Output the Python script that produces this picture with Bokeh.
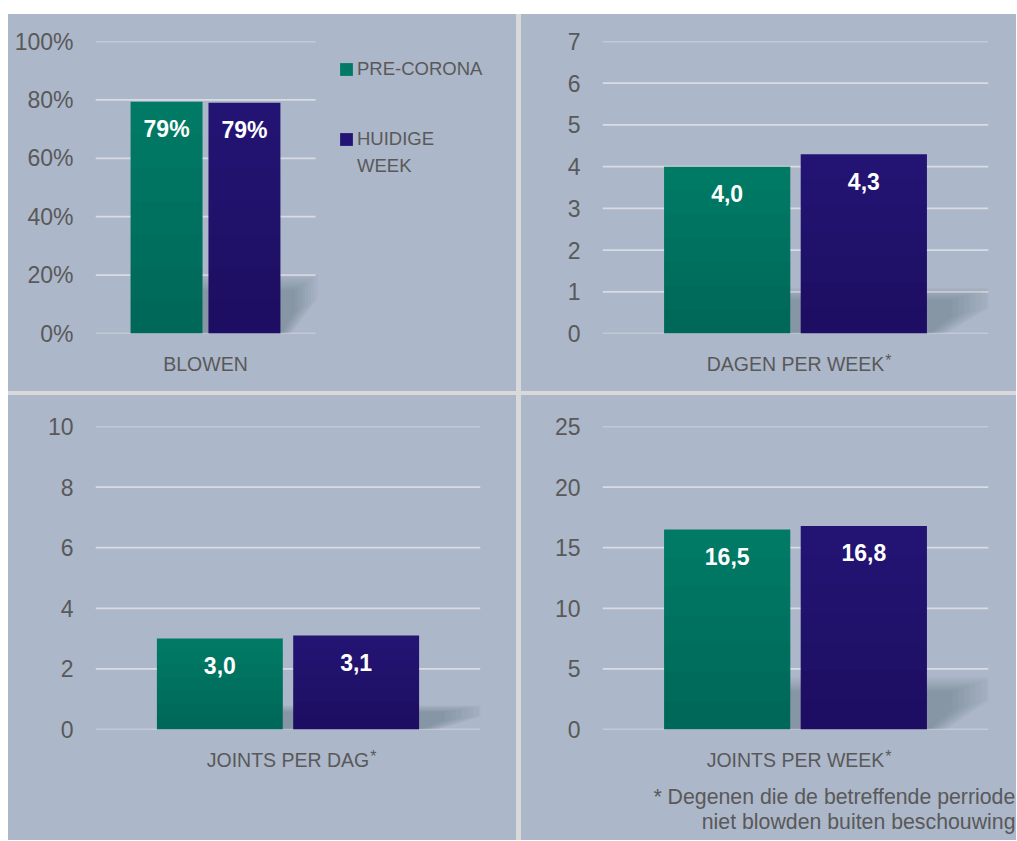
from bokeh.plotting import figure
from bokeh.models import (Range1d, FixedTicker, NumeralTickFormatter, Legend,
                          LegendItem, LinearAxis, ColumnDataSource, Spacer)
from bokeh.layouts import row, column
from bokeh.core.properties import value
from bokeh.embed import file_html
from bokeh.resources import INLINE

# ---------------- data ----------------
series = ["PRE-CORONA", "HUIDIGE WEEK"]
legend_lines = [["PRE-CORONA"], ["HUIDIGE", "WEEK"]]
categories = ["BLOWEN", "DAGEN PER WEEK", "JOINTS PER DAG", "JOINTS PER WEEK"]
pre_corona = [0.794, 4.0, 3.0, 16.5]
huidige_week = [0.790, 4.3, 3.1, 16.8]
y_max = [1.0, 7, 10, 25]
y_step = [0.2, 1, 2, 5]
has_asterisk = [False, True, True, True]
footnote = ["* Degenen die de betreffende perriode",
            "niet blowden buiten beschouwing"]

# ---------------- style ----------------
FONT = "Liberation Sans"
BG = "#acb7c9"
SEP = "#d9d9d9"
GRID = "#d9dce2"
TXT = "#595959"
COLORS = ["#007a64", "#231474"]

BAR_W = 0.327
DODGE = 0.177

# Arial / Liberation Sans advance widths (1/1000 em)
W = {" ": 278, "A": 667, "B": 667, "C": 722, "D": 722, "E": 667, "G": 778,
     "I": 278, "J": 500, "K": 667, "L": 556, "N": 722, "O": 778, "P": 667,
     "R": 722, "S": 667, "T": 611, "W": 944, "H": 722, "U": 722,
     "a": 556, "b": 556, "c": 500, "d": 556, "e": 556, "f": 278, "g": 556,
     "h": 556, "i": 222, "l": 222, "n": 556, "o": 556, "p": 556, "r": 333,
     "s": 500, "t": 278, "u": 556, "w": 722, "*": 389}


def text_width(s, size):
    return sum(W.get(c, 556) for c in s) / 1000.0 * size


def fmt(i, v):
    if i == 0:
        return f"{round(v * 100):d}%"
    return f"{v:.1f}".replace(".", ",")


def text_axis(p, pos, label, size, standoff):
    ax = LinearAxis(ticker=FixedTicker(ticks=[pos]),
                    major_label_overrides={pos: label})
    ax.axis_line_color = None
    ax.major_tick_line_color = None
    ax.minor_tick_line_color = None
    ax.major_tick_out = 0
    ax.major_tick_in = 0
    ax.major_label_standoff = standoff
    ax.major_label_text_font = FONT
    ax.major_label_text_font_size = size
    ax.major_label_text_color = TXT
    p.add_layout(ax, "below")
    return ax


def style_legend(lg, spacing):
    lg.glyph_width = 16
    lg.glyph_height = 16
    lg.label_standoff = 3
    lg.label_text_font = FONT
    lg.label_text_font_size = "18.5px"
    lg.label_text_color = TXT
    lg.label_height = 20
    lg.spacing = spacing
    lg.padding = 0
    lg.margin = 0
    lg.border_line_alpha = 0
    lg.background_fill_alpha = 0


def make_panel(i, width, height, left, right, top, bottom, plot_w=None,
               legend=False, note=False):
    frame_w = width - left - right
    if plot_w is None:
        plot_w = frame_w
    x_end = frame_w / plot_w          # category band spans data 0..1
    p = figure(width=width, height=height,
               x_range=Range1d(0, x_end), y_range=Range1d(0, y_max[i]),
               output_backend="svg", toolbar_location=None,
               min_border_left=left, min_border_right=right,
               min_border_top=top, min_border_bottom=bottom,
               styles={"background-color": BG})
    p.background_fill_color = BG
    p.border_fill_color = BG
    p.outline_line_color = None

    n = int(round(y_max[i] / y_step[i]))
    ticks = [k * y_step[i] for k in range(n + 1)]

    # y axis
    yax = p.yaxis[0]
    yax.ticker = FixedTicker(ticks=ticks)
    yax.axis_line_color = None
    yax.major_tick_line_color = None
    yax.minor_tick_line_color = None
    yax.major_tick_out = 0
    yax.major_label_standoff = 22
    yax.major_label_text_font = FONT
    yax.major_label_text_font_size = "23px"
    yax.major_label_text_color = TXT
    if i == 0:
        yax.formatter = NumeralTickFormatter(format="0%")

    # x axis (single category)
    xax = p.xaxis[0]
    xax.ticker = FixedTicker(ticks=[0.5])
    xax.major_label_overrides = {0.5: categories[i]}
    xax.axis_line_color = None
    xax.major_tick_line_color = None
    xax.minor_tick_line_color = None
    xax.major_tick_out = 0
    xax.major_label_standoff = 19
    xax.major_label_text_font = FONT
    xax.major_label_text_font_size = "19.5px"
    xax.major_label_text_color = TXT

    p.xgrid.grid_line_color = None
    p.ygrid.grid_line_color = None
    # horizontal gridlines across the category band only
    p.segment(x0=[0] * len(ticks), x1=[1] * len(ticks), y0=ticks, y1=ticks,
              line_color=GRID, line_width=1.7)

    vals = [pre_corona[i], huidige_week[i]]
    xs = [0.5 - DODGE, 0.5 + DODGE]

    # soft shadow behind the bars
    gl = xs[0] + BAR_W / 2
    pr = xs[1] + BAR_W / 2
    sh = vals[1] * 0.255
    N = 8
    for t in range(N):
        f = t / N
        p.patch(x=[gl, pr + 0.17 * (1 - 0.7 * f), pr + 0.17 * (1 - 0.7 * f),
                   pr + 0.05 * (1 - f), gl],
                y=[sh * (1 - 0.3 * f), sh * (1 - 0.3 * f),
                   sh * (0.6 - 0.25 * f), 0, 0],
                fill_color="#101828", fill_alpha=0.026, line_color=None)

    rends = []
    for k in range(2):
        r = p.vbar(x=[xs[k]], top=[vals[k]], bottom=0, width=BAR_W,
                   fill_color=COLORS[k], line_color=None)
        rends.append(r)
        # subtle vertical gradient (darker towards the base)
        for s in range(1, 7):
            p.vbar(x=[xs[k]], top=[vals[k] * (1 - s / 7.0)], bottom=0,
                   width=BAR_W, fill_color="black", fill_alpha=0.018,
                   line_color=None)

    src = ColumnDataSource(dict(x=xs, y=vals, t=[fmt(i, v) for v in vals]))
    p.text(x="x", y="y", text="t", source=src, text_color="white",
           text_font=value(FONT), text_font_style="bold",
           text_font_size="23px", text_align="center",
           text_baseline="middle", y_offset=27)

    if has_asterisk[i]:
        pos = 0.5 + (text_width(categories[i], 19.5) / 2 + 4) / plot_w
        text_axis(p, pos, "*", "16px", -26)

    if note:
        right_edge = 1015 - 8 - 508 - 5 - left   # px from frame left
        for j, line in enumerate(footnote):
            c = (right_edge - text_width(line, 21.3) / 2) / plot_w
            text_axis(p, c, line, "21.3px", [11, -2][j])

    if legend:
        # invisible companion renderer for the wrapped second label line
        blank = p.vbar(x=[], top=[], width=BAR_W, fill_alpha=0, line_alpha=0)
        lg_a = Legend(items=[LegendItem(label=legend_lines[0][0],
                                        renderers=[rends[0]])],
                      location=(243, 253))
        style_legend(lg_a, 0)
        lg_b = Legend(items=[LegendItem(label=legend_lines[1][0],
                                        renderers=[rends[1]]),
                             LegendItem(label=legend_lines[1][1],
                                        renderers=[blank])],
                      location=(243, 156))
        style_legend(lg_b, 5)
        p.add_layout(lg_a)
        p.add_layout(lg_b)
    return p


tl = make_panel(0, 508, 377, 87, 8, 27, 58, plot_w=220, legend=True)
tr = make_panel(1, 495, 377, 81, 28, 27, 58)
bl = make_panel(2, 508, 445, 87, 36, 31, 111)
br = make_panel(3, 495, 445, 81, 28, 31, 111, note=True)

grid = column(row(tl, tr, spacing=5), row(bl, br, spacing=5), spacing=4,
              styles={"background-color": SEP})
layout = column(Spacer(width=1016, height=14),
                row(Spacer(width=8, height=10), grid))

open("out.html", "w").write(file_html(layout, INLINE))
